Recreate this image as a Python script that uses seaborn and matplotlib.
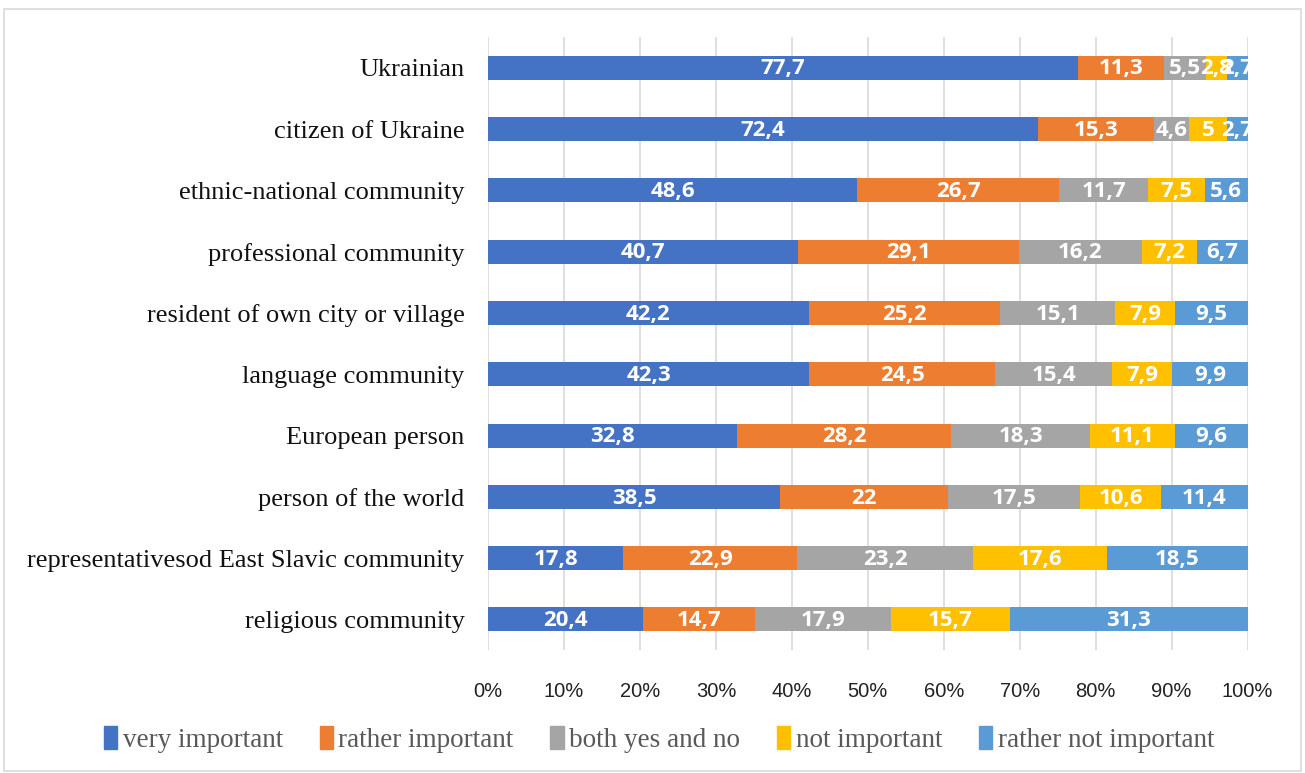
import matplotlib
matplotlib.use("Agg")
import matplotlib.pyplot as plt
from matplotlib.patches import Rectangle
from matplotlib.ticker import FuncFormatter
import numpy as np
import pandas as pd
import seaborn as sns

categories = [
    "Ukrainian",
    "citizen of Ukraine",
    "ethnic-national community",
    "professional community",
    "resident of own city or village",
    "language community",
    "European person",
    "person of the world",
    "representativesod East Slavic community",
    "religious community",
]
very_important = [77.7, 72.4, 48.6, 40.7, 42.2, 42.3, 32.8, 38.5, 17.8, 20.4]
rather_important = [11.3, 15.3, 26.7, 29.1, 25.2, 24.5, 28.2, 22, 22.9, 14.7]
both_yes_and_no = [5.5, 4.6, 11.7, 16.2, 15.1, 15.4, 18.3, 17.5, 23.2, 17.9]
not_important = [2.8, 5, 7.5, 7.2, 7.9, 7.9, 11.1, 10.6, 17.6, 15.7]
rather_not_important = [2.7, 2.7, 5.6, 6.7, 9.5, 9.9, 9.6, 11.4, 18.5, 31.3]

series_names = ["very important", "rather important", "both yes and no",
                "not important", "rather not important"]
series_values = [very_important, rather_important, both_yes_and_no,
                 not_important, rather_not_important]
colors = ["#4472C4", "#ED7D31", "#A5A5A5", "#FFC000", "#5B9BD5"]

sns.set_theme(style="white")

df = pd.DataFrame(dict(zip(series_names, series_values)), index=categories)
totals = df.sum(axis=1)
pct = df.div(totals, axis=0) * 100
cum = pct.cumsum(axis=1)

fig = plt.figure(figsize=(13.05, 7.73), dpi=100)
ax = fig.add_axes([0.374, 0.159, 0.582, 0.793])

# stacked bars: draw cumulative totals from the outermost segment inward
for name, color in reversed(list(zip(series_names, colors))):
    sns.barplot(x=cum[name].values, y=categories, orient="h", color=color,
                width=0.39, ax=ax, saturation=1, label=name, linewidth=0,
                order=categories)

# value labels centred in each segment
for i, cat in enumerate(categories):
    start = 0.0
    for name in series_names:
        v = df.loc[cat, name]
        w = pct.loc[cat, name]
        txt = f"{v:g}".replace(".", ",")
        ax.text(start + w / 2, i + 0.02, txt, ha="center", va="center",
                color="white", fontsize=16, fontweight="bold",
                family=["Open Sans", "DejaVu Sans"])
        start += w

ax.set_xlim(0, 100)
ax.set_ylim(9.5, -0.5)
ax.set_xticks(np.arange(0, 101, 10))
ax.xaxis.set_major_formatter(FuncFormatter(lambda x, p: f"{x:.0f}%"))
ax.grid(axis="x", color="#D9D9D9", linewidth=1.2)
ax.set_axisbelow(True)
for s in ax.spines.values():
    s.set_visible(False)
ax.tick_params(axis="x", length=0, pad=23, labelsize=14.5, labelcolor="#222222")
ax.tick_params(axis="y", length=0, pad=17)
for lab in ax.get_xticklabels():
    lab.set_family(["Liberation Sans Narrow", "Liberation Sans", "DejaVu Sans"])
for lab in ax.get_yticklabels():
    lab.set_family(["Liberation Serif", "DejaVu Serif"])
    lab.set_fontsize(19)
    lab.set_color("#111111")
ax.set_xlabel("")
ax.set_ylabel("")
if ax.get_legend() is not None:
    ax.get_legend().remove()

handles = [Rectangle((0, 0), 1, 1, color=c) for c in colors]
leg = fig.legend(handles, series_names, loc="center", bbox_to_anchor=(0.505, 0.043),
                 ncol=5, frameon=False, handlelength=0.5, handleheight=0.9,
                 handletextpad=0.2, columnspacing=1.35,
                 prop={"family": ["Liberation Serif", "DejaVu Serif"], "size": 19.5})
for t in leg.get_texts():
    t.set_color("#595959")

fig.patches.append(Rectangle((0.003, 0.003), 0.994, 0.985, transform=fig.transFigure,
                             fill=False, edgecolor="#D9D9D9", linewidth=1.2))

fig.savefig("out.png", dpi=100)
